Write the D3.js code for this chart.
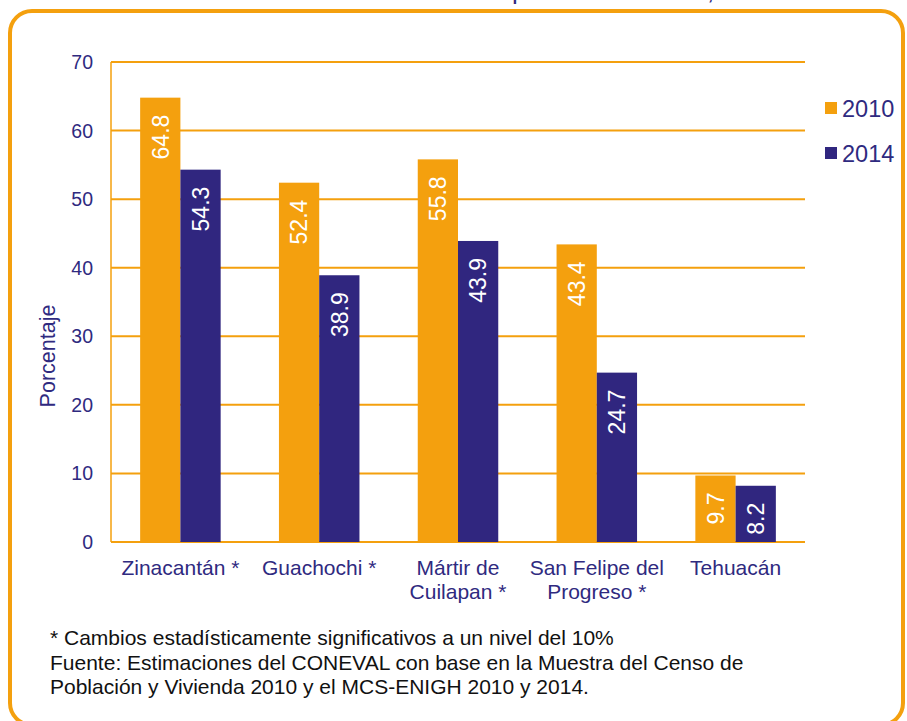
<!DOCTYPE html>
<html>
<head>
<meta charset="utf-8">
<script src="https://cdn.jsdelivr.net/npm/d3@7"></script>
<style>
  body { margin: 0; background: #fff; }
  svg { display: block; font-family: "Liberation Sans", Arial, sans-serif; }
</style>
</head>
<body>
<svg id="chart"></svg>
<script>
const categories = [["Zinacantán *"], ["Guachochi *"], ["Mártir de", "Cuilapan *"], ["San Felipe del", "Progreso *"], ["Tehuacán"]]
const series = ["2010", "2014"]
const values2010 = [64.8, 52.4, 55.8, 43.4, 9.7]
const values2014 = [54.3, 38.9, 43.9, 24.7, 8.2]
const yTicks = [0, 10, 20, 30, 40, 50, 60, 70]
const notes = [
  "* Cambios estadísticamente significativos a un nivel del 10%",
  "Fuente: Estimaciones del CONEVAL con base en la Muestra del Censo de",
  "Población y Vivienda 2010 y el MCS-ENIGH 2010 y 2014."
]

const width = 907, height = 721
const orange = "#f4a00e", purple = "#30267f", ink = "#2f2a7f"

const svg = d3.select("#chart").attr("width", width).attr("height", height)

// title, cut off by the top edge like in the source
svg.append("text")
  .attr("x", 512).attr("y", -1)
  .attr("font-size", 26)
  .attr("fill", ink)
  .text("pobreza extrema, 2010-2014")

// rounded frame
svg.append("rect")
  .attr("x", 10).attr("y", 11)
  .attr("width", 893).attr("height", 714)
  .attr("rx", 22)
  .attr("fill", "none")
  .attr("stroke", orange)
  .attr("stroke-width", 4)

const x0 = d3.scaleBand()
  .domain(categories.map((d, i) => i))
  .range([111, 805])
  .paddingInner(0.42)
  .paddingOuter(0.21)

const x1 = d3.scaleBand()
  .domain(series)
  .range([0, x0.bandwidth()])

const y = d3.scaleLinear().domain([0, 70]).range([542, 62])

const color = d3.scaleOrdinal().domain(series).range([orange, purple])

// grid lines
svg.append("g")
  .selectAll("line")
  .data(yTicks)
  .enter().append("line")
  .attr("x1", 111).attr("x2", 805)
  .attr("y1", d => y(d)).attr("y2", d => y(d))
  .attr("stroke", orange)
  .attr("stroke-width", 2)

svg.append("line")
  .attr("x1", 111).attr("x2", 111)
  .attr("y1", y(70)).attr("y2", y(0))
  .attr("stroke", orange)
  .attr("stroke-width", 1.5)

// y tick labels
svg.append("g")
  .selectAll("text")
  .data(yTicks)
  .enter().append("text")
  .attr("x", 93)
  .attr("y", d => y(d))
  .attr("dy", "0.36em")
  .attr("text-anchor", "end")
  .attr("font-size", 19.5)
  .attr("fill", ink)
  .text(d => d)

svg.append("text")
  .attr("transform", "translate(55,356) rotate(-90)")
  .attr("text-anchor", "middle")
  .attr("font-size", 21.5)
  .attr("fill", ink)
  .text("Porcentaje")

// bars
const rows = categories.map((c, i) => ({ i: i, vals: [values2010[i], values2014[i]] }))

const groups = svg.append("g")
  .selectAll("g")
  .data(rows)
  .enter().append("g")
  .attr("transform", d => "translate(" + x0(d.i) + ",0)")

const bars = groups.selectAll("g")
  .data(d => d.vals.map((v, k) => ({ key: series[k], v: v })))
  .enter().append("g")

bars.append("rect")
  .attr("x", d => x1(d.key))
  .attr("y", d => y(d.v))
  .attr("width", x1.bandwidth())
  .attr("height", d => y(0) - y(d.v))
  .attr("fill", d => color(d.key))

bars.append("text")
  .attr("transform", d => "translate(" + (x1(d.key) + x1.bandwidth() / 2) + "," + (y(d.v) + 17) + ") rotate(-90)")
  .attr("text-anchor", "end")
  .attr("dy", "0.36em")
  .attr("font-size", 23)
  .attr("fill", "#fff")
  .text(d => d.v.toFixed(1))

// x labels
const xl = svg.append("g")
  .selectAll("text")
  .data(categories)
  .enter().append("text")
  .attr("x", (d, i) => x0(i) + x0.bandwidth() / 2)
  .attr("y", 575)
  .attr("text-anchor", "middle")
  .attr("font-size", 21)
  .attr("fill", ink)

xl.selectAll("tspan")
  .data(d => d)
  .enter().append("tspan")
  .attr("x", function () { return this.parentNode.getAttribute("x") })
  .attr("dy", (d, i) => i === 0 ? 0 : 24)
  .text(d => d)

// legend
const legend = svg.append("g")
  .selectAll("g")
  .data(series)
  .enter().append("g")
  .attr("transform", (d, i) => "translate(825," + (102 + i * 45) + ")")

legend.append("rect")
  .attr("width", 12).attr("height", 12)
  .attr("fill", d => color(d))

legend.append("text")
  .attr("x", 17).attr("y", 15)
  .attr("font-size", 23.5)
  .attr("fill", ink)
  .text(d => d)

// notes
svg.append("g")
  .selectAll("text")
  .data(notes)
  .enter().append("text")
  .attr("x", 50)
  .attr("y", (d, i) => 645 + i * 24.5)
  .attr("font-size", 21)
  .attr("fill", "#111")
  .text(d => d)
</script>
</body>
</html>
